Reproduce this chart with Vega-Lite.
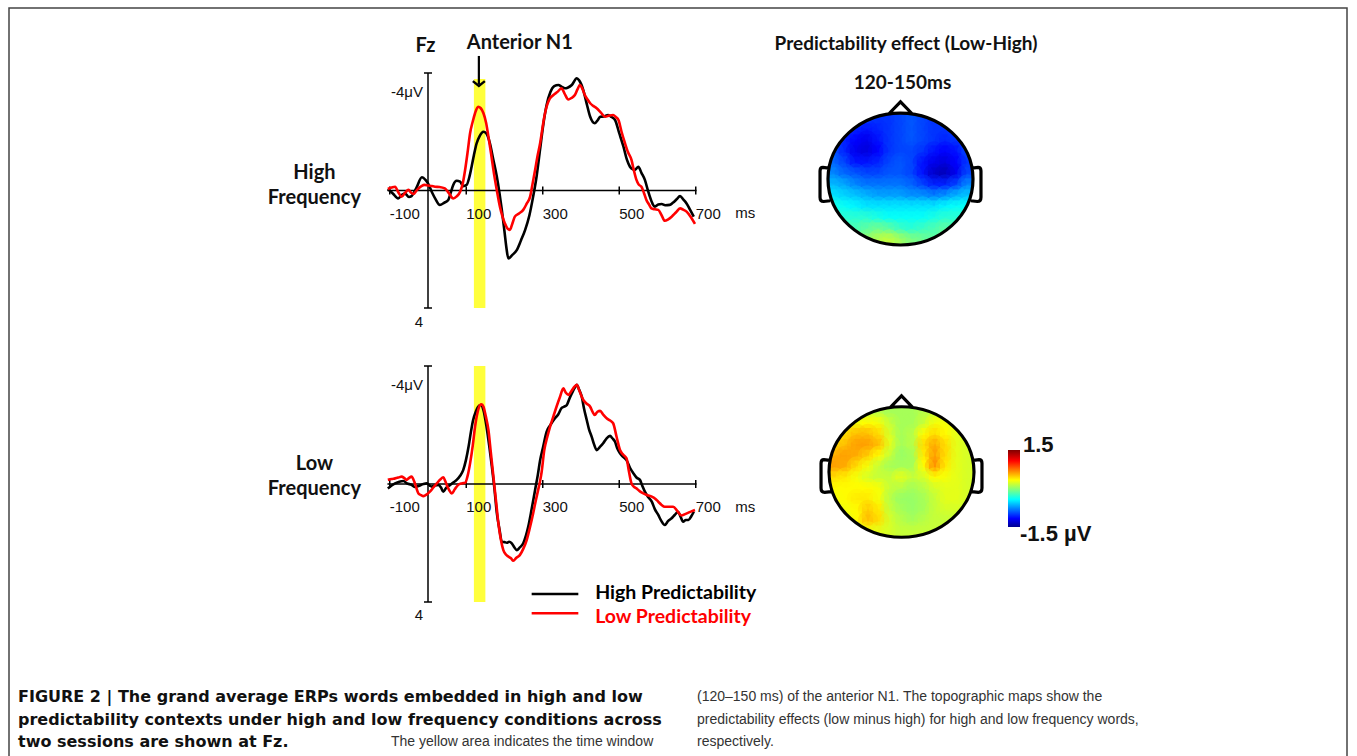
{
"$schema":"https://vega.github.io/schema/vega-lite/v6.json",
"width":1357,"height":756,
"autosize":{"type":"fit","contains":"padding"},
"padding":{"left":9,"top":8,"right":10,"bottom":-4},
"background":"white",
"config":{"view":{"stroke":"#444","strokeWidth":1.5},"axis":{"disable":true},"legend":{"disable":true}},
"data":{"values":[{}]},
"datasets":{
"xt":[{"t":-100,"lab":"-100"},{"t":100,"lab":"100"},{"t":300,"lab":"300"},{"t":500,"lab":"500"},{"t":700,"lab":"700"}],
"yt":[{"v":-4},{"v":4}],
"ann":[
{"p":"HF","k":"b","t":-6.5,"v":-4.92,"txt":"Fz"},
{"p":"HF","k":"b","t":240,"v":-5.02,"txt":"Anterior N1"},
{"p":"HF","k":"b","t":-297,"v":-0.6,"txt":"High"},
{"p":"HF","k":"b","t":-297,"v":0.26,"txt":"Frequency"},
{"p":"HF","k":"y","t":0,"v":-3.35,"txt":"-4μV"},
{"p":"HF","k":"y","t":0,"v":4.48,"txt":"4"},
{"p":"HF","k":"x","t":803,"v":0.78,"txt":"ms"},
{"p":"LF","k":"b","t":-297,"v":-0.68,"txt":"Low"},
{"p":"LF","k":"b","t":-297,"v":0.17,"txt":"Frequency"},
{"p":"LF","k":"y","t":0,"v":-3.36,"txt":"-4μV"},
{"p":"LF","k":"y","t":0,"v":4.44,"txt":"4"},
{"p":"LF","k":"x","t":803,"v":0.78,"txt":"ms"}
],
"leg":[
{"s":"High","t":271,"t2":393,"v":3.73,"lt":437,"lv":3.68,"txt":"High Predictability"},
{"s":"Low","t":271,"t2":393,"v":4.38,"lt":437,"lv":4.5,"txt":"Low Predictability"}
],
"tt":[
{"c":6.49,"r":-6.77,"txt":"Predictability effect (Low-High)"},
{"c":6.18,"r":-3.2,"txt":"120-150ms"}
],
"cb":[{"v":1.5,"txt":"1.5"},{"v":-1.5,"txt":"-1.5 µV"}],
"cap":[
{"col":0,"line":1,"w":"b","txt":"FIGURE 2 | The grand average ERPs words embedded in high and low"},
{"col":0,"line":2,"w":"b","txt":"predictability contexts under high and low frequency conditions across"},
{"col":0,"line":3,"w":"b","txt":"two sessions are shown at Fz."},
{"col":0,"line":3,"w":"r2","txt":"The yellow area indicates the time window"},
{"col":1,"line":1,"w":"r","txt":"(120–150 ms) of the anterior N1. The topographic maps show the"},
{"col":1,"line":2,"w":"r","txt":"predictability effects (low minus high) for high and low frequency words,"},
{"col":1,"line":3,"w":"r","txt":"respectively."}
],
"erp":[
{"p":"HF","s":"High","t":-105,"v":-0.05},{"p":"HF","s":"High","t":-92,"v":0.1},{"p":"HF","s":"High","t":-78,"v":0.27},{"p":"HF","s":"High","t":-68,"v":0.15},{"p":"HF","s":"High","t":-60,"v":0.1},{"p":"HF","s":"High","t":-50,"v":0.22},{"p":"HF","s":"High","t":-43,"v":0.19},{"p":"HF","s":"High","t":-30,"v":-0.1},{"p":"HF","s":"High","t":-16,"v":-0.45},{"p":"HF","s":"High","t":-6,"v":-0.35},{"p":"HF","s":"High","t":0,"v":-0.24},{"p":"HF","s":"High","t":10,"v":0.05},{"p":"HF","s":"High","t":20,"v":0.3},{"p":"HF","s":"High","t":31,"v":0.49},{"p":"HF","s":"High","t":42,"v":0.42},{"p":"HF","s":"High","t":53,"v":0.32},{"p":"HF","s":"High","t":60,"v":0.05},{"p":"HF","s":"High","t":66,"v":-0.19},{"p":"HF","s":"High","t":75,"v":-0.33},{"p":"HF","s":"High","t":84,"v":-0.3},{"p":"HF","s":"High","t":92,"v":-0.15},{"p":"HF","s":"High","t":101,"v":-0.19},{"p":"HF","s":"High","t":108,"v":-0.45},{"p":"HF","s":"High","t":114,"v":-0.81},{"p":"HF","s":"High","t":120,"v":-1.2},{"p":"HF","s":"High","t":127,"v":-1.6},{"p":"HF","s":"High","t":135,"v":-1.85},{"p":"HF","s":"High","t":145,"v":-2.0},{"p":"HF","s":"High","t":152,"v":-1.95},{"p":"HF","s":"High","t":162,"v":-1.6},{"p":"HF","s":"High","t":170,"v":-1.1},{"p":"HF","s":"High","t":180,"v":-0.47},{"p":"HF","s":"High","t":187,"v":0.1},{"p":"HF","s":"High","t":193,"v":0.66},{"p":"HF","s":"High","t":200,"v":1.4},{"p":"HF","s":"High","t":205,"v":1.95},{"p":"HF","s":"High","t":210,"v":2.31},{"p":"HF","s":"High","t":220,"v":2.2},{"p":"HF","s":"High","t":232,"v":2.03},{"p":"HF","s":"High","t":243,"v":1.7},{"p":"HF","s":"High","t":254,"v":1.34},{"p":"HF","s":"High","t":265,"v":0.85},{"p":"HF","s":"High","t":275,"v":0.2},{"p":"HF","s":"High","t":283,"v":-0.4},{"p":"HF","s":"High","t":293,"v":-1.4},{"p":"HF","s":"High","t":302,"v":-2.3},{"p":"HF","s":"High","t":310,"v":-2.9},{"p":"HF","s":"High","t":320,"v":-3.35},{"p":"HF","s":"High","t":330,"v":-3.55},{"p":"HF","s":"High","t":341,"v":-3.59},{"p":"HF","s":"High","t":350,"v":-3.53},{"p":"HF","s":"High","t":358,"v":-3.48},{"p":"HF","s":"High","t":365,"v":-3.5},{"p":"HF","s":"High","t":376,"v":-3.59},{"p":"HF","s":"High","t":389,"v":-3.82},{"p":"HF","s":"High","t":395,"v":-3.75},{"p":"HF","s":"High","t":406,"v":-3.42},{"p":"HF","s":"High","t":415,"v":-2.95},{"p":"HF","s":"High","t":424,"v":-2.51},{"p":"HF","s":"High","t":436,"v":-2.29},{"p":"HF","s":"High","t":444,"v":-2.4},{"p":"HF","s":"High","t":450,"v":-2.51},{"p":"HF","s":"High","t":460,"v":-2.52},{"p":"HF","s":"High","t":471,"v":-2.57},{"p":"HF","s":"High","t":480,"v":-2.5},{"p":"HF","s":"High","t":489,"v":-2.4},{"p":"HF","s":"High","t":500,"v":-1.95},{"p":"HF","s":"High","t":511,"v":-1.49},{"p":"HF","s":"High","t":520,"v":-1.05},{"p":"HF","s":"High","t":528,"v":-0.81},{"p":"HF","s":"High","t":536,"v":-0.72},{"p":"HF","s":"High","t":541,"v":-0.7},{"p":"HF","s":"High","t":550,"v":-0.81},{"p":"HF","s":"High","t":558,"v":-0.6},{"p":"HF","s":"High","t":567,"v":-0.36},{"p":"HF","s":"High","t":575,"v":0.0},{"p":"HF","s":"High","t":580,"v":0.21},{"p":"HF","s":"High","t":587,"v":0.45},{"p":"HF","s":"High","t":593,"v":0.55},{"p":"HF","s":"High","t":602,"v":0.48},{"p":"HF","s":"High","t":611,"v":0.46},{"p":"HF","s":"High","t":620,"v":0.5},{"p":"HF","s":"High","t":632,"v":0.49},{"p":"HF","s":"High","t":640,"v":0.42},{"p":"HF","s":"High","t":650,"v":0.3},{"p":"HF","s":"High","t":659,"v":0.19},{"p":"HF","s":"High","t":667,"v":0.3},{"p":"HF","s":"High","t":676,"v":0.44},{"p":"HF","s":"High","t":685,"v":0.65},{"p":"HF","s":"High","t":695,"v":0.89},
{"p":"HF","s":"Low","t":-105,"v":-0.05},{"p":"HF","s":"Low","t":-95,"v":-0.1},{"p":"HF","s":"Low","t":-86,"v":-0.13},{"p":"HF","s":"Low","t":-78,"v":0.05},{"p":"HF","s":"Low","t":-69,"v":0.21},{"p":"HF","s":"Low","t":-60,"v":0.08},{"p":"HF","s":"Low","t":-51,"v":-0.02},{"p":"HF","s":"Low","t":-44,"v":0.08},{"p":"HF","s":"Low","t":-38,"v":0.12},{"p":"HF","s":"Low","t":-30,"v":0.0},{"p":"HF","s":"Low","t":-25,"v":-0.07},{"p":"HF","s":"Low","t":-17,"v":-0.15},{"p":"HF","s":"Low","t":-9,"v":-0.19},{"p":"HF","s":"Low","t":0,"v":-0.17},{"p":"HF","s":"Low","t":10,"v":-0.15},{"p":"HF","s":"Low","t":18,"v":-0.13},{"p":"HF","s":"Low","t":30,"v":-0.12},{"p":"HF","s":"Low","t":44,"v":-0.07},{"p":"HF","s":"Low","t":55,"v":0.1},{"p":"HF","s":"Low","t":66,"v":0.27},{"p":"HF","s":"Low","t":75,"v":0.2},{"p":"HF","s":"Low","t":84,"v":0.04},{"p":"HF","s":"Low","t":91,"v":-0.25},{"p":"HF","s":"Low","t":97,"v":-0.7},{"p":"HF","s":"Low","t":104,"v":-1.35},{"p":"HF","s":"Low","t":110,"v":-1.95},{"p":"HF","s":"Low","t":117,"v":-2.35},{"p":"HF","s":"Low","t":123,"v":-2.63},{"p":"HF","s":"Low","t":131,"v":-2.85},{"p":"HF","s":"Low","t":138,"v":-2.8},{"p":"HF","s":"Low","t":145,"v":-2.63},{"p":"HF","s":"Low","t":152,"v":-2.3},{"p":"HF","s":"Low","t":158,"v":-1.83},{"p":"HF","s":"Low","t":165,"v":-1.25},{"p":"HF","s":"Low","t":171,"v":-0.7},{"p":"HF","s":"Low","t":180,"v":0.0},{"p":"HF","s":"Low","t":188,"v":0.55},{"p":"HF","s":"Low","t":195,"v":0.9},{"p":"HF","s":"Low","t":201,"v":1.12},{"p":"HF","s":"Low","t":208,"v":1.3},{"p":"HF","s":"Low","t":214,"v":1.34},{"p":"HF","s":"Low","t":220,"v":1.15},{"p":"HF","s":"Low","t":227,"v":0.89},{"p":"HF","s":"Low","t":238,"v":0.78},{"p":"HF","s":"Low","t":249,"v":0.66},{"p":"HF","s":"Low","t":258,"v":0.45},{"p":"HF","s":"Low","t":267,"v":0.21},{"p":"HF","s":"Low","t":273,"v":-0.2},{"p":"HF","s":"Low","t":280,"v":-0.7},{"p":"HF","s":"Low","t":286,"v":-1.15},{"p":"HF","s":"Low","t":293,"v":-1.6},{"p":"HF","s":"Low","t":299,"v":-2.1},{"p":"HF","s":"Low","t":304,"v":-2.5},{"p":"HF","s":"Low","t":310,"v":-2.85},{"p":"HF","s":"Low","t":318,"v":-3.12},{"p":"HF","s":"Low","t":328,"v":-3.25},{"p":"HF","s":"Low","t":338,"v":-3.35},{"p":"HF","s":"Low","t":349,"v":-3.48},{"p":"HF","s":"Low","t":357,"v":-3.3},{"p":"HF","s":"Low","t":367,"v":-3.1},{"p":"HF","s":"Low","t":375,"v":-3.15},{"p":"HF","s":"Low","t":384,"v":-3.25},{"p":"HF","s":"Low","t":391,"v":-3.45},{"p":"HF","s":"Low","t":397,"v":-3.59},{"p":"HF","s":"Low","t":404,"v":-3.45},{"p":"HF","s":"Low","t":410,"v":-3.25},{"p":"HF","s":"Low","t":417,"v":-3.1},{"p":"HF","s":"Low","t":424,"v":-2.97},{"p":"HF","s":"Low","t":432,"v":-2.88},{"p":"HF","s":"Low","t":441,"v":-2.8},{"p":"HF","s":"Low","t":452,"v":-2.65},{"p":"HF","s":"Low","t":463,"v":-2.51},{"p":"HF","s":"Low","t":474,"v":-2.55},{"p":"HF","s":"Low","t":484,"v":-2.57},{"p":"HF","s":"Low","t":491,"v":-2.5},{"p":"HF","s":"Low","t":498,"v":-2.4},{"p":"HF","s":"Low","t":506,"v":-2.0},{"p":"HF","s":"Low","t":515,"v":-1.61},{"p":"HF","s":"Low","t":523,"v":-1.3},{"p":"HF","s":"Low","t":532,"v":-1.04},{"p":"HF","s":"Low","t":538,"v":-0.7},{"p":"HF","s":"Low","t":545,"v":-0.36},{"p":"HF","s":"Low","t":551,"v":-0.2},{"p":"HF","s":"Low","t":558,"v":-0.13},{"p":"HF","s":"Low","t":565,"v":0.1},{"p":"HF","s":"Low","t":571,"v":0.32},{"p":"HF","s":"Low","t":578,"v":0.48},{"p":"HF","s":"Low","t":584,"v":0.61},{"p":"HF","s":"Low","t":593,"v":0.64},{"p":"HF","s":"Low","t":602,"v":0.66},{"p":"HF","s":"Low","t":611,"v":0.85},{"p":"HF","s":"Low","t":619,"v":1.03},{"p":"HF","s":"Low","t":628,"v":0.98},{"p":"HF","s":"Low","t":637,"v":0.89},{"p":"HF","s":"Low","t":648,"v":0.75},{"p":"HF","s":"Low","t":659,"v":0.61},{"p":"HF","s":"Low","t":667,"v":0.65},{"p":"HF","s":"Low","t":676,"v":0.72},{"p":"HF","s":"Low","t":687,"v":0.9},{"p":"HF","s":"Low","t":698,"v":1.14},
{"p":"LF","s":"High","t":-105,"v":0.15},{"p":"LF","s":"High","t":-95,"v":0.05},{"p":"LF","s":"High","t":-86,"v":-0.02},{"p":"LF","s":"High","t":-75,"v":-0.08},{"p":"LF","s":"High","t":-64,"v":-0.1},{"p":"LF","s":"High","t":-55,"v":-0.02},{"p":"LF","s":"High","t":-43,"v":0.03},{"p":"LF","s":"High","t":-35,"v":0.1},{"p":"LF","s":"High","t":-25,"v":0.07},{"p":"LF","s":"High","t":-12,"v":0.0},{"p":"LF","s":"High","t":-3,"v":-0.02},{"p":"LF","s":"High","t":5,"v":0.06},{"p":"LF","s":"High","t":10,"v":0.09},{"p":"LF","s":"High","t":18,"v":0.05},{"p":"LF","s":"High","t":27,"v":0.03},{"p":"LF","s":"High","t":34,"v":0.12},{"p":"LF","s":"High","t":40,"v":0.26},{"p":"LF","s":"High","t":48,"v":0.12},{"p":"LF","s":"High","t":58,"v":0.03},{"p":"LF","s":"High","t":66,"v":-0.05},{"p":"LF","s":"High","t":75,"v":-0.14},{"p":"LF","s":"High","t":84,"v":-0.28},{"p":"LF","s":"High","t":92,"v":-0.47},{"p":"LF","s":"High","t":99,"v":-0.8},{"p":"LF","s":"High","t":106,"v":-1.26},{"p":"LF","s":"High","t":112,"v":-1.75},{"p":"LF","s":"High","t":118,"v":-2.17},{"p":"LF","s":"High","t":125,"v":-2.45},{"p":"LF","s":"High","t":131,"v":-2.62},{"p":"LF","s":"High","t":138,"v":-2.68},{"p":"LF","s":"High","t":145,"v":-2.5},{"p":"LF","s":"High","t":153,"v":-1.94},{"p":"LF","s":"High","t":160,"v":-1.3},{"p":"LF","s":"High","t":167,"v":-0.59},{"p":"LF","s":"High","t":174,"v":0.2},{"p":"LF","s":"High","t":180,"v":0.99},{"p":"LF","s":"High","t":187,"v":1.55},{"p":"LF","s":"High","t":193,"v":1.96},{"p":"LF","s":"High","t":200,"v":1.97},{"p":"LF","s":"High","t":206,"v":1.99},{"p":"LF","s":"High","t":212,"v":1.96},{"p":"LF","s":"High","t":219,"v":2.01},{"p":"LF","s":"High","t":226,"v":2.15},{"p":"LF","s":"High","t":232,"v":2.24},{"p":"LF","s":"High","t":240,"v":2.15},{"p":"LF","s":"High","t":249,"v":2.01},{"p":"LF","s":"High","t":256,"v":1.75},{"p":"LF","s":"High","t":262,"v":1.45},{"p":"LF","s":"High","t":271,"v":0.85},{"p":"LF","s":"High","t":280,"v":0.2},{"p":"LF","s":"High","t":287,"v":-0.3},{"p":"LF","s":"High","t":293,"v":-0.8},{"p":"LF","s":"High","t":300,"v":-1.2},{"p":"LF","s":"High","t":310,"v":-1.77},{"p":"LF","s":"High","t":320,"v":-2.0},{"p":"LF","s":"High","t":332,"v":-2.23},{"p":"LF","s":"High","t":340,"v":-2.35},{"p":"LF","s":"High","t":349,"v":-2.57},{"p":"LF","s":"High","t":356,"v":-2.62},{"p":"LF","s":"High","t":363,"v":-2.68},{"p":"LF","s":"High","t":370,"v":-2.9},{"p":"LF","s":"High","t":376,"v":-3.07},{"p":"LF","s":"High","t":383,"v":-3.25},{"p":"LF","s":"High","t":389,"v":-3.36},{"p":"LF","s":"High","t":395,"v":-3.2},{"p":"LF","s":"High","t":402,"v":-2.96},{"p":"LF","s":"High","t":408,"v":-2.55},{"p":"LF","s":"High","t":415,"v":-2.17},{"p":"LF","s":"High","t":421,"v":-1.85},{"p":"LF","s":"High","t":428,"v":-1.6},{"p":"LF","s":"High","t":434,"v":-1.35},{"p":"LF","s":"High","t":441,"v":-1.15},{"p":"LF","s":"High","t":449,"v":-1.25},{"p":"LF","s":"High","t":458,"v":-1.38},{"p":"LF","s":"High","t":467,"v":-1.55},{"p":"LF","s":"High","t":476,"v":-1.63},{"p":"LF","s":"High","t":482,"v":-1.55},{"p":"LF","s":"High","t":489,"v":-1.43},{"p":"LF","s":"High","t":495,"v":-1.2},{"p":"LF","s":"High","t":502,"v":-1.04},{"p":"LF","s":"High","t":510,"v":-0.92},{"p":"LF","s":"High","t":519,"v":-0.81},{"p":"LF","s":"High","t":528,"v":-0.55},{"p":"LF","s":"High","t":537,"v":-0.36},{"p":"LF","s":"High","t":545,"v":-0.22},{"p":"LF","s":"High","t":554,"v":-0.14},{"p":"LF","s":"High","t":560,"v":0.05},{"p":"LF","s":"High","t":567,"v":0.26},{"p":"LF","s":"High","t":576,"v":0.45},{"p":"LF","s":"High","t":585,"v":0.6},{"p":"LF","s":"High","t":593,"v":0.85},{"p":"LF","s":"High","t":602,"v":1.05},{"p":"LF","s":"High","t":610,"v":1.25},{"p":"LF","s":"High","t":619,"v":1.39},{"p":"LF","s":"High","t":628,"v":1.25},{"p":"LF","s":"High","t":637,"v":1.16},{"p":"LF","s":"High","t":645,"v":1.05},{"p":"LF","s":"High","t":654,"v":0.94},{"p":"LF","s":"High","t":660,"v":1.1},{"p":"LF","s":"High","t":667,"v":1.28},{"p":"LF","s":"High","t":674,"v":1.22},{"p":"LF","s":"High","t":681,"v":1.22},{"p":"LF","s":"High","t":688,"v":1.1},{"p":"LF","s":"High","t":695,"v":0.94},
{"p":"LF","s":"Low","t":-105,"v":-0.14},{"p":"LF","s":"Low","t":-95,"v":-0.17},{"p":"LF","s":"Low","t":-86,"v":-0.19},{"p":"LF","s":"Low","t":-77,"v":-0.22},{"p":"LF","s":"Low","t":-69,"v":-0.25},{"p":"LF","s":"Low","t":-62,"v":-0.2},{"p":"LF","s":"Low","t":-56,"v":-0.14},{"p":"LF","s":"Low","t":-50,"v":-0.2},{"p":"LF","s":"Low","t":-43,"v":-0.25},{"p":"LF","s":"Low","t":-35,"v":-0.05},{"p":"LF","s":"Low","t":-25,"v":0.32},{"p":"LF","s":"Low","t":-18,"v":0.38},{"p":"LF","s":"Low","t":-12,"v":0.41},{"p":"LF","s":"Low","t":-3,"v":0.35},{"p":"LF","s":"Low","t":5,"v":0.26},{"p":"LF","s":"Low","t":14,"v":0.12},{"p":"LF","s":"Low","t":23,"v":-0.02},{"p":"LF","s":"Low","t":32,"v":-0.15},{"p":"LF","s":"Low","t":40,"v":-0.23},{"p":"LF","s":"Low","t":45,"v":-0.1},{"p":"LF","s":"Low","t":49,"v":0.03},{"p":"LF","s":"Low","t":55,"v":0.2},{"p":"LF","s":"Low","t":62,"v":0.32},{"p":"LF","s":"Low","t":70,"v":0.18},{"p":"LF","s":"Low","t":79,"v":0.03},{"p":"LF","s":"Low","t":88,"v":-0.02},{"p":"LF","s":"Low","t":97,"v":-0.04},{"p":"LF","s":"Low","t":104,"v":-0.3},{"p":"LF","s":"Low","t":110,"v":-0.7},{"p":"LF","s":"Low","t":117,"v":-1.3},{"p":"LF","s":"Low","t":123,"v":-1.94},{"p":"LF","s":"Low","t":130,"v":-2.45},{"p":"LF","s":"Low","t":136,"v":-2.68},{"p":"LF","s":"Low","t":140,"v":-2.7},{"p":"LF","s":"Low","t":145,"v":-2.62},{"p":"LF","s":"Low","t":151,"v":-2.3},{"p":"LF","s":"Low","t":158,"v":-1.83},{"p":"LF","s":"Low","t":164,"v":-1.1},{"p":"LF","s":"Low","t":171,"v":-0.25},{"p":"LF","s":"Low","t":178,"v":0.6},{"p":"LF","s":"Low","t":184,"v":1.33},{"p":"LF","s":"Low","t":190,"v":1.85},{"p":"LF","s":"Low","t":197,"v":2.24},{"p":"LF","s":"Low","t":203,"v":2.38},{"p":"LF","s":"Low","t":210,"v":2.46},{"p":"LF","s":"Low","t":217,"v":2.52},{"p":"LF","s":"Low","t":223,"v":2.6},{"p":"LF","s":"Low","t":231,"v":2.5},{"p":"LF","s":"Low","t":240,"v":2.41},{"p":"LF","s":"Low","t":249,"v":2.2},{"p":"LF","s":"Low","t":258,"v":1.9},{"p":"LF","s":"Low","t":266,"v":1.5},{"p":"LF","s":"Low","t":275,"v":0.99},{"p":"LF","s":"Low","t":282,"v":0.55},{"p":"LF","s":"Low","t":288,"v":0.2},{"p":"LF","s":"Low","t":293,"v":-0.1},{"p":"LF","s":"Low","t":297,"v":-0.4},{"p":"LF","s":"Low","t":304,"v":-1.15},{"p":"LF","s":"Low","t":312,"v":-1.6},{"p":"LF","s":"Low","t":319,"v":-1.94},{"p":"LF","s":"Low","t":328,"v":-2.3},{"p":"LF","s":"Low","t":336,"v":-2.62},{"p":"LF","s":"Low","t":345,"v":-2.95},{"p":"LF","s":"Low","t":354,"v":-3.24},{"p":"LF","s":"Low","t":360,"v":-3.1},{"p":"LF","s":"Low","t":367,"v":-3.02},{"p":"LF","s":"Low","t":375,"v":-3.15},{"p":"LF","s":"Low","t":383,"v":-3.3},{"p":"LF","s":"Low","t":389,"v":-3.36},{"p":"LF","s":"Low","t":396,"v":-3.15},{"p":"LF","s":"Low","t":406,"v":-2.85},{"p":"LF","s":"Low","t":415,"v":-2.72},{"p":"LF","s":"Low","t":424,"v":-2.62},{"p":"LF","s":"Low","t":430,"v":-2.45},{"p":"LF","s":"Low","t":436,"v":-2.34},{"p":"LF","s":"Low","t":443,"v":-2.45},{"p":"LF","s":"Low","t":450,"v":-2.48},{"p":"LF","s":"Low","t":458,"v":-2.35},{"p":"LF","s":"Low","t":467,"v":-2.23},{"p":"LF","s":"Low","t":476,"v":-2.15},{"p":"LF","s":"Low","t":484,"v":-2.06},{"p":"LF","s":"Low","t":493,"v":-1.6},{"p":"LF","s":"Low","t":502,"v":-1.15},{"p":"LF","s":"Low","t":510,"v":-1.0},{"p":"LF","s":"Low","t":519,"v":-0.87},{"p":"LF","s":"Low","t":525,"v":-0.45},{"p":"LF","s":"Low","t":532,"v":-0.02},{"p":"LF","s":"Low","t":539,"v":0.1},{"p":"LF","s":"Low","t":545,"v":0.15},{"p":"LF","s":"Low","t":554,"v":0.25},{"p":"LF","s":"Low","t":563,"v":0.32},{"p":"LF","s":"Low","t":574,"v":0.38},{"p":"LF","s":"Low","t":585,"v":0.43},{"p":"LF","s":"Low","t":594,"v":0.5},{"p":"LF","s":"Low","t":602,"v":0.6},{"p":"LF","s":"Low","t":610,"v":0.7},{"p":"LF","s":"Low","t":619,"v":0.77},{"p":"LF","s":"Low","t":630,"v":0.77},{"p":"LF","s":"Low","t":641,"v":0.77},{"p":"LF","s":"Low","t":652,"v":0.92},{"p":"LF","s":"Low","t":663,"v":1.07},{"p":"LF","s":"Low","t":672,"v":1.02},{"p":"LF","s":"Low","t":681,"v":0.97},{"p":"LF","s":"Low","t":690,"v":0.92},{"p":"LF","s":"Low","t":698,"v":0.88}
],
"topo":[
{"m":"H","r":0,"c":2,"v":-0.92},{"m":"H","r":0,"c":3,"v":-0.97},{"m":"H","r":0,"c":4,"v":-1.02},{"m":"H","r":0,"c":5,"v":-1.02},{"m":"H","r":0,"c":6,"v":-0.97},{"m":"H","r":0,"c":7,"v":-0.92},{"m":"H","r":0,"c":8,"v":-0.97},{"m":"H","r":0,"c":9,"v":-1.02},{"m":"H","r":0,"c":10,"v":-0.97},
{"m":"H","r":1,"c":1,"v":-0.97},{"m":"H","r":1,"c":2,"v":-1.07},{"m":"H","r":1,"c":3,"v":-1.12},{"m":"H","r":1,"c":4,"v":-1.07},{"m":"H","r":1,"c":5,"v":-1.02},{"m":"H","r":1,"c":6,"v":-0.97},{"m":"H","r":1,"c":7,"v":-0.92},{"m":"H","r":1,"c":8,"v":-0.97},{"m":"H","r":1,"c":9,"v":-1.02},{"m":"H","r":1,"c":10,"v":-1.02},{"m":"H","r":1,"c":11,"v":-0.97},
{"m":"H","r":2,"c":0,"v":-0.97},{"m":"H","r":2,"c":1,"v":-1.07},{"m":"H","r":2,"c":2,"v":-1.17},{"m":"H","r":2,"c":3,"v":-1.22},{"m":"H","r":2,"c":4,"v":-1.12},{"m":"H","r":2,"c":5,"v":-1.02},{"m":"H","r":2,"c":6,"v":-0.97},{"m":"H","r":2,"c":7,"v":-0.92},{"m":"H","r":2,"c":8,"v":-0.97},{"m":"H","r":2,"c":9,"v":-1.02},{"m":"H","r":2,"c":10,"v":-1.07},{"m":"H","r":2,"c":11,"v":-1.02},{"m":"H","r":2,"c":12,"v":-0.97},
{"m":"H","r":3,"c":0,"v":-0.92},{"m":"H","r":3,"c":1,"v":-1.07},{"m":"H","r":3,"c":2,"v":-1.22},{"m":"H","r":3,"c":3,"v":-1.27},{"m":"H","r":3,"c":4,"v":-1.17},{"m":"H","r":3,"c":5,"v":-1.02},{"m":"H","r":3,"c":6,"v":-0.97},{"m":"H","r":3,"c":7,"v":-0.97},{"m":"H","r":3,"c":8,"v":-1.02},{"m":"H","r":3,"c":9,"v":-1.12},{"m":"H","r":3,"c":10,"v":-1.17},{"m":"H","r":3,"c":11,"v":-1.12},{"m":"H","r":3,"c":12,"v":-0.97},
{"m":"H","r":4,"c":0,"v":-0.87},{"m":"H","r":4,"c":1,"v":-0.97},{"m":"H","r":4,"c":2,"v":-1.12},{"m":"H","r":4,"c":3,"v":-1.12},{"m":"H","r":4,"c":4,"v":-1.07},{"m":"H","r":4,"c":5,"v":-0.97},{"m":"H","r":4,"c":6,"v":-0.92},{"m":"H","r":4,"c":7,"v":-0.97},{"m":"H","r":4,"c":8,"v":-1.12},{"m":"H","r":4,"c":9,"v":-1.22},{"m":"H","r":4,"c":10,"v":-1.27},{"m":"H","r":4,"c":11,"v":-1.17},{"m":"H","r":4,"c":12,"v":-1.02},
{"m":"H","r":5,"c":0,"v":-0.77},{"m":"H","r":5,"c":1,"v":-0.87},{"m":"H","r":5,"c":2,"v":-0.92},{"m":"H","r":5,"c":3,"v":-0.97},{"m":"H","r":5,"c":4,"v":-0.97},{"m":"H","r":5,"c":5,"v":-0.92},{"m":"H","r":5,"c":6,"v":-0.92},{"m":"H","r":5,"c":7,"v":-0.97},{"m":"H","r":5,"c":8,"v":-1.12},{"m":"H","r":5,"c":9,"v":-1.32},{"m":"H","r":5,"c":10,"v":-1.37},{"m":"H","r":5,"c":11,"v":-1.22},{"m":"H","r":5,"c":12,"v":-0.97},
{"m":"H","r":6,"c":0,"v":-0.63},{"m":"H","r":6,"c":1,"v":-0.68},{"m":"H","r":6,"c":2,"v":-0.78},{"m":"H","r":6,"c":3,"v":-0.83},{"m":"H","r":6,"c":4,"v":-0.83},{"m":"H","r":6,"c":5,"v":-0.83},{"m":"H","r":6,"c":6,"v":-0.83},{"m":"H","r":6,"c":7,"v":-0.88},{"m":"H","r":6,"c":8,"v":-0.98},{"m":"H","r":6,"c":9,"v":-1.08},{"m":"H","r":6,"c":10,"v":-1.08},{"m":"H","r":6,"c":11,"v":-0.98},{"m":"H","r":6,"c":12,"v":-0.78},
{"m":"H","r":7,"c":0,"v":-0.5},{"m":"H","r":7,"c":1,"v":-0.55},{"m":"H","r":7,"c":2,"v":-0.6},{"m":"H","r":7,"c":3,"v":-0.65},{"m":"H","r":7,"c":4,"v":-0.7},{"m":"H","r":7,"c":5,"v":-0.7},{"m":"H","r":7,"c":6,"v":-0.7},{"m":"H","r":7,"c":7,"v":-0.75},{"m":"H","r":7,"c":8,"v":-0.75},{"m":"H","r":7,"c":9,"v":-0.8},{"m":"H","r":7,"c":10,"v":-0.75},{"m":"H","r":7,"c":11,"v":-0.65},{"m":"H","r":7,"c":12,"v":-0.6},
{"m":"H","r":8,"c":0,"v":-0.35},{"m":"H","r":8,"c":1,"v":-0.4},{"m":"H","r":8,"c":2,"v":-0.45},{"m":"H","r":8,"c":3,"v":-0.5},{"m":"H","r":8,"c":4,"v":-0.5},{"m":"H","r":8,"c":5,"v":-0.5},{"m":"H","r":8,"c":6,"v":-0.5},{"m":"H","r":8,"c":7,"v":-0.5},{"m":"H","r":8,"c":8,"v":-0.5},{"m":"H","r":8,"c":9,"v":-0.5},{"m":"H","r":8,"c":10,"v":-0.45},{"m":"H","r":8,"c":11,"v":-0.4},{"m":"H","r":8,"c":12,"v":-0.4},
{"m":"H","r":9,"c":0,"v":-0.3},{"m":"H","r":9,"c":1,"v":-0.3},{"m":"H","r":9,"c":2,"v":-0.3},{"m":"H","r":9,"c":3,"v":-0.3},{"m":"H","r":9,"c":4,"v":-0.35},{"m":"H","r":9,"c":5,"v":-0.4},{"m":"H","r":9,"c":6,"v":-0.4},{"m":"H","r":9,"c":7,"v":-0.4},{"m":"H","r":9,"c":8,"v":-0.4},{"m":"H","r":9,"c":9,"v":-0.35},{"m":"H","r":9,"c":10,"v":-0.3},{"m":"H","r":9,"c":11,"v":-0.3},{"m":"H","r":9,"c":12,"v":-0.3},
{"m":"H","r":10,"c":1,"v":-0.2},{"m":"H","r":10,"c":2,"v":-0.2},{"m":"H","r":10,"c":3,"v":-0.15},{"m":"H","r":10,"c":4,"v":-0.1},{"m":"H","r":10,"c":5,"v":-0.15},{"m":"H","r":10,"c":6,"v":-0.25},{"m":"H","r":10,"c":7,"v":-0.3},{"m":"H","r":10,"c":8,"v":-0.25},{"m":"H","r":10,"c":9,"v":-0.2},{"m":"H","r":10,"c":10,"v":-0.15},{"m":"H","r":10,"c":11,"v":-0.2},
{"m":"H","r":11,"c":2,"v":-0.1},{"m":"H","r":11,"c":3,"v":0.0},{"m":"H","r":11,"c":4,"v":0.1},{"m":"H","r":11,"c":5,"v":0.15},{"m":"H","r":11,"c":6,"v":0.05},{"m":"H","r":11,"c":7,"v":-0.05},{"m":"H","r":11,"c":8,"v":-0.1},{"m":"H","r":11,"c":9,"v":-0.15},{"m":"H","r":11,"c":10,"v":-0.1},
{"m":"L","r":0,"c":2,"v":0.16},{"m":"L","r":0,"c":3,"v":0.16},{"m":"L","r":0,"c":4,"v":0.12},{"m":"L","r":0,"c":5,"v":0.07},{"m":"L","r":0,"c":6,"v":0.07},{"m":"L","r":0,"c":7,"v":0.07},{"m":"L","r":0,"c":8,"v":0.12},{"m":"L","r":0,"c":9,"v":0.16},{"m":"L","r":0,"c":10,"v":0.21},
{"m":"L","r":1,"c":1,"v":0.25},{"m":"L","r":1,"c":2,"v":0.3},{"m":"L","r":1,"c":3,"v":0.34},{"m":"L","r":1,"c":4,"v":0.3},{"m":"L","r":1,"c":5,"v":0.16},{"m":"L","r":1,"c":6,"v":0.07},{"m":"L","r":1,"c":7,"v":0.07},{"m":"L","r":1,"c":8,"v":0.16},{"m":"L","r":1,"c":9,"v":0.3},{"m":"L","r":1,"c":10,"v":0.3},{"m":"L","r":1,"c":11,"v":0.25},
{"m":"L","r":2,"c":0,"v":0.34},{"m":"L","r":2,"c":1,"v":0.43},{"m":"L","r":2,"c":2,"v":0.52},{"m":"L","r":2,"c":3,"v":0.52},{"m":"L","r":2,"c":4,"v":0.43},{"m":"L","r":2,"c":5,"v":0.21},{"m":"L","r":2,"c":6,"v":0.07},{"m":"L","r":2,"c":7,"v":0.12},{"m":"L","r":2,"c":8,"v":0.34},{"m":"L","r":2,"c":9,"v":0.43},{"m":"L","r":2,"c":10,"v":0.34},{"m":"L","r":2,"c":11,"v":0.25},{"m":"L","r":2,"c":12,"v":0.21},
{"m":"L","r":3,"c":0,"v":0.43},{"m":"L","r":3,"c":1,"v":0.52},{"m":"L","r":3,"c":2,"v":0.61},{"m":"L","r":3,"c":3,"v":0.61},{"m":"L","r":3,"c":4,"v":0.52},{"m":"L","r":3,"c":5,"v":0.25},{"m":"L","r":3,"c":6,"v":0.07},{"m":"L","r":3,"c":7,"v":0.12},{"m":"L","r":3,"c":8,"v":0.43},{"m":"L","r":3,"c":9,"v":0.57},{"m":"L","r":3,"c":10,"v":0.43},{"m":"L","r":3,"c":11,"v":0.25},{"m":"L","r":3,"c":12,"v":0.21},
{"m":"L","r":4,"c":0,"v":0.57},{"m":"L","r":4,"c":1,"v":0.61},{"m":"L","r":4,"c":2,"v":0.57},{"m":"L","r":4,"c":3,"v":0.48},{"m":"L","r":4,"c":4,"v":0.34},{"m":"L","r":4,"c":5,"v":0.16},{"m":"L","r":4,"c":6,"v":0.03},{"m":"L","r":4,"c":7,"v":0.07},{"m":"L","r":4,"c":8,"v":0.39},{"m":"L","r":4,"c":9,"v":0.61},{"m":"L","r":4,"c":10,"v":0.43},{"m":"L","r":4,"c":11,"v":0.25},{"m":"L","r":4,"c":12,"v":0.21},
{"m":"L","r":5,"c":0,"v":0.61},{"m":"L","r":5,"c":1,"v":0.57},{"m":"L","r":5,"c":2,"v":0.43},{"m":"L","r":5,"c":3,"v":0.3},{"m":"L","r":5,"c":4,"v":0.16},{"m":"L","r":5,"c":5,"v":0.07},{"m":"L","r":5,"c":6,"v":0.07},{"m":"L","r":5,"c":7,"v":0.07},{"m":"L","r":5,"c":8,"v":0.34},{"m":"L","r":5,"c":9,"v":0.66},{"m":"L","r":5,"c":10,"v":0.39},{"m":"L","r":5,"c":11,"v":0.25},{"m":"L","r":5,"c":12,"v":0.21},
{"m":"L","r":6,"c":0,"v":0.43},{"m":"L","r":6,"c":1,"v":0.39},{"m":"L","r":6,"c":2,"v":0.3},{"m":"L","r":6,"c":3,"v":0.21},{"m":"L","r":6,"c":4,"v":0.16},{"m":"L","r":6,"c":5,"v":0.16},{"m":"L","r":6,"c":6,"v":0.25},{"m":"L","r":6,"c":7,"v":0.16},{"m":"L","r":6,"c":8,"v":0.21},{"m":"L","r":6,"c":9,"v":0.34},{"m":"L","r":6,"c":10,"v":0.3},{"m":"L","r":6,"c":11,"v":0.25},{"m":"L","r":6,"c":12,"v":0.21},
{"m":"L","r":7,"c":0,"v":0.34},{"m":"L","r":7,"c":1,"v":0.34},{"m":"L","r":7,"c":2,"v":0.34},{"m":"L","r":7,"c":3,"v":0.34},{"m":"L","r":7,"c":4,"v":0.3},{"m":"L","r":7,"c":5,"v":0.16},{"m":"L","r":7,"c":6,"v":0.12},{"m":"L","r":7,"c":7,"v":0.07},{"m":"L","r":7,"c":8,"v":0.12},{"m":"L","r":7,"c":9,"v":0.21},{"m":"L","r":7,"c":10,"v":0.25},{"m":"L","r":7,"c":11,"v":0.25},{"m":"L","r":7,"c":12,"v":0.21},
{"m":"L","r":8,"c":0,"v":0.3},{"m":"L","r":8,"c":1,"v":0.34},{"m":"L","r":8,"c":2,"v":0.39},{"m":"L","r":8,"c":3,"v":0.39},{"m":"L","r":8,"c":4,"v":0.3},{"m":"L","r":8,"c":5,"v":0.12},{"m":"L","r":8,"c":6,"v":0.03},{"m":"L","r":8,"c":7,"v":0.03},{"m":"L","r":8,"c":8,"v":0.07},{"m":"L","r":8,"c":9,"v":0.16},{"m":"L","r":8,"c":10,"v":0.25},{"m":"L","r":8,"c":11,"v":0.25},{"m":"L","r":8,"c":12,"v":0.21},
{"m":"L","r":9,"c":0,"v":0.25},{"m":"L","r":9,"c":1,"v":0.3},{"m":"L","r":9,"c":2,"v":0.34},{"m":"L","r":9,"c":3,"v":0.48},{"m":"L","r":9,"c":4,"v":0.39},{"m":"L","r":9,"c":5,"v":0.16},{"m":"L","r":9,"c":6,"v":0.07},{"m":"L","r":9,"c":7,"v":0.03},{"m":"L","r":9,"c":8,"v":0.07},{"m":"L","r":9,"c":9,"v":0.16},{"m":"L","r":9,"c":10,"v":0.21},{"m":"L","r":9,"c":11,"v":0.21},{"m":"L","r":9,"c":12,"v":0.16},
{"m":"L","r":10,"c":1,"v":0.25},{"m":"L","r":10,"c":2,"v":0.34},{"m":"L","r":10,"c":3,"v":0.52},{"m":"L","r":10,"c":4,"v":0.43},{"m":"L","r":10,"c":5,"v":0.21},{"m":"L","r":10,"c":6,"v":0.12},{"m":"L","r":10,"c":7,"v":0.07},{"m":"L","r":10,"c":8,"v":0.12},{"m":"L","r":10,"c":9,"v":0.16},{"m":"L","r":10,"c":10,"v":0.16},{"m":"L","r":10,"c":11,"v":0.16},
{"m":"L","r":11,"c":2,"v":0.25},{"m":"L","r":11,"c":3,"v":0.3},{"m":"L","r":11,"c":4,"v":0.25},{"m":"L","r":11,"c":5,"v":0.21},{"m":"L","r":11,"c":6,"v":0.16},{"m":"L","r":11,"c":7,"v":0.16},{"m":"L","r":11,"c":8,"v":0.16},{"m":"L","r":11,"c":9,"v":0.16},{"m":"L","r":11,"c":10,"v":0.16}
]
},
"layer":[
{
"layer":[
{"mark":{"type":"rect","color":"#ffff3c"},"encoding":{"x":{"datum":120,"type":"quantitative","scale":{"domain":[-100,700],"range":[380.75,686.75],"nice":false,"zero":false}},"x2":{"datum":150},"y":{"datum":-3.8,"type":"quantitative","scale":{"domain":[-4,4],"range":[65,300],"nice":false,"zero":false}},"y2":{"datum":4}}},
{"mark":{"type":"rule","color":"#000","strokeWidth":1.5},"encoding":{"x":{"datum":-106,"type":"quantitative"},"x2":{"datum":702},"y":{"datum":0,"type":"quantitative"}}},
{"mark":{"type":"rule","color":"#000","strokeWidth":1.5},"encoding":{"x":{"datum":0,"type":"quantitative"},"y":{"datum":-4,"type":"quantitative"},"y2":{"datum":4}}},
{"data":{"name":"xt"},"mark":{"type":"tick","orient":"vertical","color":"#000","size":8,"thickness":1.5,"opacity":1},"encoding":{"x":{"field":"t","type":"quantitative"},"y":{"datum":0,"type":"quantitative"}}},
{"data":{"name":"yt"},"mark":{"type":"tick","orient":"horizontal","color":"#000","size":8,"thickness":1.5,"opacity":1},"encoding":{"x":{"datum":0,"type":"quantitative"},"y":{"field":"v","type":"quantitative"}}},
{"data":{"name":"xt"},"mark":{"type":"text","align":"left","baseline":"middle","dy":23,"font":"Liberation Sans","fontSize":15,"color":"#111"},"encoding":{"x":{"field":"t","type":"quantitative"},"y":{"datum":0,"type":"quantitative"},"text":{"field":"lab"}}},
{"data":{"name":"erp"},"transform":[{"filter":"datum.p=='HF' && datum.s=='High'"}],"mark":{"type":"line","color":"#000","strokeWidth":2.6,"interpolate":"monotone"},"encoding":{"x":{"field":"t","type":"quantitative"},"y":{"field":"v","type":"quantitative"}}},
{"data":{"name":"erp"},"transform":[{"filter":"datum.p=='HF' && datum.s=='Low'"}],"mark":{"type":"line","color":"#ff0000","strokeWidth":2.6,"interpolate":"monotone"},"encoding":{"x":{"field":"t","type":"quantitative"},"y":{"field":"v","type":"quantitative"}}},
{"mark":{"type":"rule","color":"#000","strokeWidth":2.2},"encoding":{"x":{"datum":133,"type":"quantitative"},"y":{"datum":-4.58,"type":"quantitative"},"y2":{"datum":-3.62}}},
{"mark":{"type":"point","shape":"M-1,-0.8L0,0L1,-0.8","filled":false,"color":"#000","strokeWidth":2.5,"size":144,"opacity":1},"encoding":{"x":{"datum":133,"type":"quantitative"},"y":{"datum":-3.56,"type":"quantitative"}}},
{"data":{"name":"ann"},"transform":[{"filter":"datum.p=='HF' && datum.k=='b'"}],"mark":{"type":"text","font":"Lato","fontWeight":"bold","fontSize":20,"color":"#111","baseline":"middle"},"encoding":{"x":{"field":"t","type":"quantitative"},"y":{"field":"v","type":"quantitative"},"text":{"field":"txt"}}},
{"data":{"name":"ann"},"transform":[{"filter":"datum.p=='HF' && datum.k=='y'"}],"mark":{"type":"text","align":"right","dx":-5,"baseline":"middle","font":"Liberation Sans","fontSize":15,"color":"#111"},"encoding":{"x":{"field":"t","type":"quantitative"},"y":{"field":"v","type":"quantitative"},"text":{"field":"txt"}}},
{"data":{"name":"ann"},"transform":[{"filter":"datum.p=='HF' && datum.k=='x'"}],"mark":{"type":"text","align":"left","baseline":"middle","font":"Liberation Sans","fontSize":15,"color":"#111"},"encoding":{"x":{"field":"t","type":"quantitative"},"y":{"field":"v","type":"quantitative"},"text":{"field":"txt"}}}
]
},
{
"layer":[
{"mark":{"type":"rect","color":"#ffff3c"},"encoding":{"x":{"datum":120,"type":"quantitative","scale":{"domain":[-100,700],"range":[380.75,686.75],"nice":false,"zero":false}},"x2":{"datum":150},"y":{"datum":-4,"type":"quantitative","scale":{"domain":[-4,4],"range":[358,594],"nice":false,"zero":false}},"y2":{"datum":4}}},
{"mark":{"type":"rule","color":"#000","strokeWidth":1.5},"encoding":{"x":{"datum":-106,"type":"quantitative"},"x2":{"datum":702},"y":{"datum":0,"type":"quantitative"}}},
{"mark":{"type":"rule","color":"#000","strokeWidth":1.5},"encoding":{"x":{"datum":0,"type":"quantitative"},"y":{"datum":-4,"type":"quantitative"},"y2":{"datum":4}}},
{"data":{"name":"xt"},"mark":{"type":"tick","orient":"vertical","color":"#000","size":8,"thickness":1.5,"opacity":1},"encoding":{"x":{"field":"t","type":"quantitative"},"y":{"datum":0,"type":"quantitative"}}},
{"data":{"name":"yt"},"mark":{"type":"tick","orient":"horizontal","color":"#000","size":8,"thickness":1.5,"opacity":1},"encoding":{"x":{"datum":0,"type":"quantitative"},"y":{"field":"v","type":"quantitative"}}},
{"data":{"name":"xt"},"mark":{"type":"text","align":"left","baseline":"middle","dy":23,"font":"Liberation Sans","fontSize":15,"color":"#111"},"encoding":{"x":{"field":"t","type":"quantitative"},"y":{"datum":0,"type":"quantitative"},"text":{"field":"lab"}}},
{"data":{"name":"erp"},"transform":[{"filter":"datum.p=='LF' && datum.s=='High'"}],"mark":{"type":"line","color":"#000","strokeWidth":2.6,"interpolate":"monotone"},"encoding":{"x":{"field":"t","type":"quantitative"},"y":{"field":"v","type":"quantitative"}}},
{"data":{"name":"erp"},"transform":[{"filter":"datum.p=='LF' && datum.s=='Low'"}],"mark":{"type":"line","color":"#ff0000","strokeWidth":2.6,"interpolate":"monotone"},"encoding":{"x":{"field":"t","type":"quantitative"},"y":{"field":"v","type":"quantitative"}}},
{"data":{"name":"ann"},"transform":[{"filter":"datum.p=='LF' && datum.k=='b'"}],"mark":{"type":"text","font":"Lato","fontWeight":"bold","fontSize":20,"color":"#111","baseline":"middle"},"encoding":{"x":{"field":"t","type":"quantitative"},"y":{"field":"v","type":"quantitative"},"text":{"field":"txt"}}},
{"data":{"name":"ann"},"transform":[{"filter":"datum.p=='LF' && datum.k=='y'"}],"mark":{"type":"text","align":"right","dx":-5,"baseline":"middle","font":"Liberation Sans","fontSize":15,"color":"#111"},"encoding":{"x":{"field":"t","type":"quantitative"},"y":{"field":"v","type":"quantitative"},"text":{"field":"txt"}}},
{"data":{"name":"ann"},"transform":[{"filter":"datum.p=='LF' && datum.k=='x'"}],"mark":{"type":"text","align":"left","baseline":"middle","font":"Liberation Sans","fontSize":15,"color":"#111"},"encoding":{"x":{"field":"t","type":"quantitative"},"y":{"field":"v","type":"quantitative"},"text":{"field":"txt"}}},
{"data":{"name":"leg"},"mark":{"type":"rule","strokeWidth":2.6},"encoding":{"x":{"field":"t","type":"quantitative"},"x2":{"field":"t2"},"y":{"field":"v","type":"quantitative"},"color":{"field":"s","type":"nominal","scale":{"domain":["High","Low"],"range":["#000000","#ff0000"]},"legend":null}}},
{"data":{"name":"leg"},"mark":{"type":"text","align":"left","baseline":"middle","font":"Lato","fontWeight":"bold","fontSize":19.5},"encoding":{"x":{"field":"lt","type":"quantitative"},"y":{"field":"lv","type":"quantitative"},"text":{"field":"txt"},"color":{"field":"s","type":"nominal","scale":{"domain":["High","Low"],"range":["#000000","#ff0000"]},"legend":null}}}
]
},
{
"layer":[
{"data":{"name":"topo"},"transform":[{"filter":"datum.m=='H'"}],"mark":{"type":"square","filled":true,"size":150,"strokeWidth":0,"opacity":1},"encoding":{"x":{"field":"c","type":"quantitative","scale":{"domain":[-0.5,12.5],"range":[819,964],"nice":false,"zero":false}},"y":{"field":"r","type":"quantitative","scale":{"domain":[-0.5,11.5],"range":[105,237],"nice":false,"zero":false}},"color":{"field":"v","type":"quantitative","scale":{"type":"linear","domain":[-1.5,-1.17,-0.42,0.33,1.08,1.5],"range":["#00008f","#0000ff","#00ffff","#ffff00","#ff0000","#800000"],"interpolate":"rgb","nice":false,"zero":false},"legend":null}}},
{"data":{"name":"topo"},"transform":[{"filter":"datum.m=='H'"}],"mark":{"type":"circle","size":420,"strokeWidth":0,"opacity":0.35},"encoding":{"x":{"field":"c","type":"quantitative"},"y":{"field":"r","type":"quantitative"},"color":{"field":"v","type":"quantitative","legend":null}}},
{"mark":{"type":"point","shape":"M-1.25,-1.25H1.25V1.25H-1.25Z M1,0A1,0.91,0,0,0,-1,0A1,0.91,0,0,0,1,0Z","filled":true,"color":"#ffffff","strokeWidth":0,"size":21025,"opacity":1},"encoding":{"x":{"datum":6,"type":"quantitative"},"y":{"datum":5.5,"type":"quantitative"}}},
{"mark":{"type":"point","shape":"M1,0A1,0.91,0,1,1,-1,0A1,0.91,0,1,1,1,0Z M-0.16,-0.9L0,-1.065L0.16,-0.9 M-0.99,-0.15L-1.07,-0.16Q-1.11,-0.16,-1.11,-0.11L-1.11,0.25Q-1.11,0.31,-1.06,0.31L-0.97,0.3 M0.99,-0.15L1.07,-0.16Q1.11,-0.16,1.11,-0.11L1.11,0.25Q1.11,0.31,1.06,0.31L0.97,0.3","filled":false,"color":"#000000","strokeWidth":3.2,"size":21025,"opacity":1},"encoding":{"x":{"datum":6,"type":"quantitative"},"y":{"datum":5.5,"type":"quantitative"}}},
{"data":{"name":"tt"},"mark":{"type":"text","font":"Lato","fontWeight":"bold","fontSize":19,"color":"#111","baseline":"middle"},"encoding":{"x":{"field":"c","type":"quantitative"},"y":{"field":"r","type":"quantitative"},"text":{"field":"txt"}}}
]
},
{
"layer":[
{"data":{"name":"topo"},"transform":[{"filter":"datum.m=='L'"}],"mark":{"type":"square","filled":true,"size":150,"strokeWidth":0,"opacity":1},"encoding":{"x":{"field":"c","type":"quantitative","scale":{"domain":[-0.5,12.5],"range":[820,965],"nice":false,"zero":false}},"y":{"field":"r","type":"quantitative","scale":{"domain":[-0.5,11.5],"range":[399,529],"nice":false,"zero":false}},"color":{"field":"v","type":"quantitative","scale":{"type":"linear","domain":[-1.5,-1.17,-0.42,0.33,1.08,1.5],"range":["#00008f","#0000ff","#00ffff","#ffff00","#ff0000","#800000"],"interpolate":"rgb","nice":false,"zero":false},"legend":null}}},
{"data":{"name":"topo"},"transform":[{"filter":"datum.m=='L'"}],"mark":{"type":"circle","size":420,"strokeWidth":0,"opacity":0.35},"encoding":{"x":{"field":"c","type":"quantitative"},"y":{"field":"r","type":"quantitative"},"color":{"field":"v","type":"quantitative","legend":null}}},
{"mark":{"type":"point","shape":"M-1.25,-1.25H1.25V1.25H-1.25Z M1,0A1,0.9,0,0,0,-1,0A1,0.9,0,0,0,1,0Z","filled":true,"color":"#ffffff","strokeWidth":0,"size":21025,"opacity":1},"encoding":{"x":{"datum":6,"type":"quantitative"},"y":{"datum":5.5,"type":"quantitative"}}},
{"mark":{"type":"point","shape":"M1,0A1,0.9,0,1,1,-1,0A1,0.9,0,1,1,1,0Z M-0.16,-0.886L0,-1.05L0.16,-0.886 M-0.99,-0.16L-1.07,-0.17Q-1.11,-0.17,-1.11,-0.12L-1.11,0.22Q-1.11,0.28,-1.06,0.28L-0.97,0.27 M0.99,-0.16L1.07,-0.17Q1.11,-0.17,1.11,-0.12L1.11,0.22Q1.11,0.28,1.06,0.28L0.97,0.27","filled":false,"color":"#000000","strokeWidth":3.2,"size":21025,"opacity":1},"encoding":{"x":{"datum":6,"type":"quantitative"},"y":{"datum":5.5,"type":"quantitative"}}}
]
},
{
"layer":[
{"mark":{"type":"rect","color":{"gradient":"linear","x1":0,"y1":1,"x2":0,"y2":0,"stops":[{"offset":0,"color":"#00008f"},{"offset":0.11,"color":"#0000ff"},{"offset":0.36,"color":"#00ffff"},{"offset":0.61,"color":"#ffff00"},{"offset":0.86,"color":"#ff0000"},{"offset":1,"color":"#800000"}]}},"encoding":{"x":{"datum":0,"type":"quantitative","scale":{"domain":[0,1],"range":[999,1011],"nice":false,"zero":false}},"x2":{"datum":1},"y":{"datum":-1.5,"type":"quantitative","scale":{"domain":[-1.5,1.5],"range":[519,442],"nice":false,"zero":false}},"y2":{"datum":1.5}}},
{"data":{"name":"cb"},"transform":[{"filter":"datum.v>0"}],"mark":{"type":"text","align":"left","baseline":"middle","dx":3,"dy":-5,"font":"Liberation Sans","fontWeight":"bold","fontSize":22,"color":"#111"},"encoding":{"x":{"datum":1,"type":"quantitative"},"y":{"field":"v","type":"quantitative"},"text":{"field":"txt"}}},
{"data":{"name":"cb"},"transform":[{"filter":"datum.v<0"}],"mark":{"type":"text","align":"left","baseline":"middle","dx":0,"dy":7,"font":"Liberation Sans","fontWeight":"bold","fontSize":22,"color":"#111"},"encoding":{"x":{"datum":1,"type":"quantitative"},"y":{"field":"v","type":"quantitative"},"text":{"field":"txt"}}}
]
},
{
"data":{"name":"cap"},
"layer":[
{"transform":[{"filter":"datum.w=='b'"}],"mark":{"type":"text","align":"left","baseline":"middle","font":"DejaVu Sans","fontWeight":"bold","fontSize":16,"color":"#111"},"encoding":{"x":{"field":"col","type":"quantitative","scale":{"domain":[0,1],"range":[9,688],"nice":false,"zero":false}},"y":{"field":"line","type":"quantitative","scale":{"domain":[1,3],"range":[689,734],"nice":false,"zero":false}},"text":{"field":"txt"}}},
{"transform":[{"filter":"datum.w=='r'"}],"mark":{"type":"text","align":"left","baseline":"middle","font":"Liberation Sans","fontSize":14,"color":"#333"},"encoding":{"x":{"field":"col","type":"quantitative"},"y":{"field":"line","type":"quantitative"},"text":{"field":"txt"}}},
{"transform":[{"filter":"datum.w=='r2'"}],"mark":{"type":"text","align":"left","baseline":"middle","dx":373,"font":"Liberation Sans","fontSize":14,"color":"#333"},"encoding":{"x":{"field":"col","type":"quantitative"},"y":{"field":"line","type":"quantitative"},"text":{"field":"txt"}}}
]
}
],
"resolve":{"scale":{"x":"independent","y":"independent","color":"independent"}}
}
